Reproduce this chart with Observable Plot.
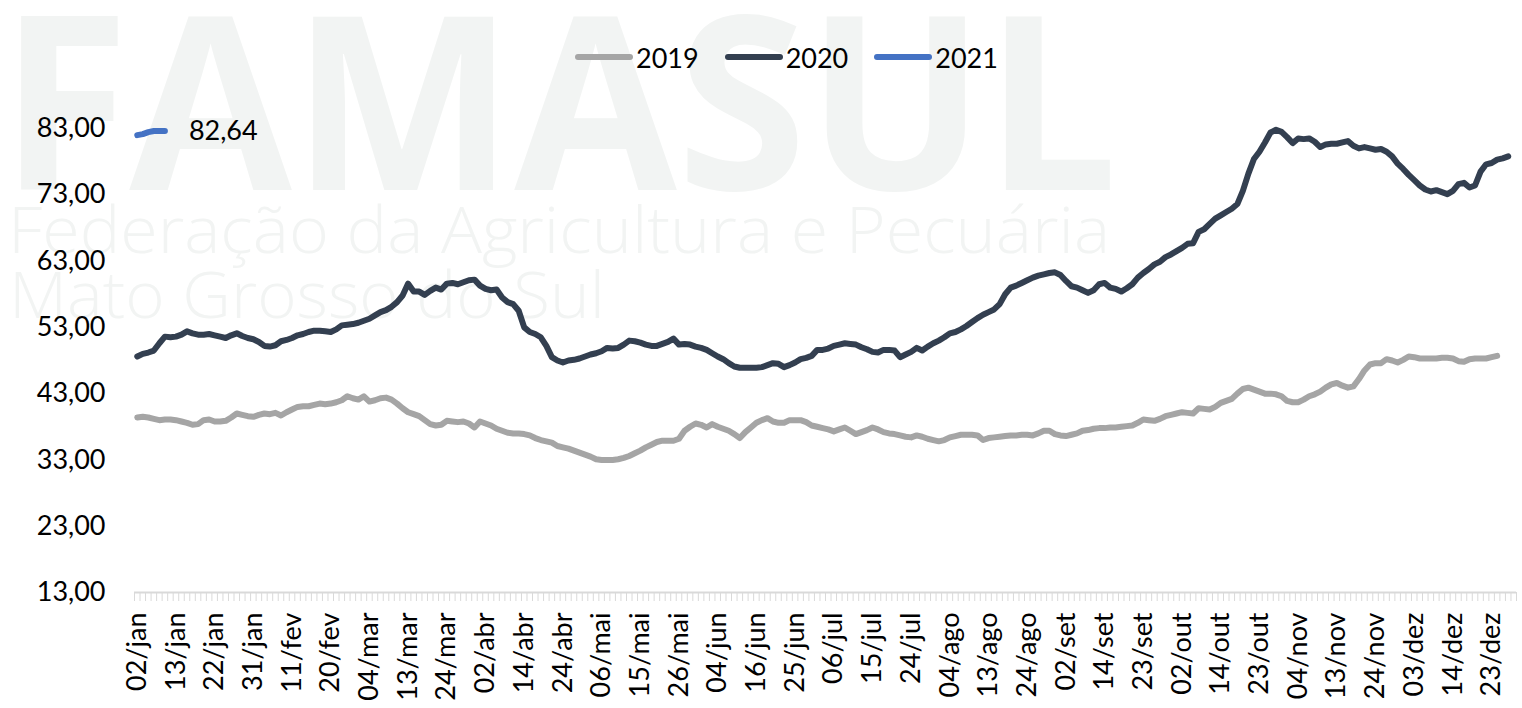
<!DOCTYPE html>
<html>
<head>
<meta charset="utf-8">
<script src="https://cdn.jsdelivr.net/npm/d3@7"></script>
<script src="https://cdn.jsdelivr.net/npm/@observablehq/plot@0.6"></script>
<style>
  html, body { margin: 0; padding: 0; background: #fff; }
  #page { position: relative; width: 1522px; height: 708px; overflow: hidden; font-family: Lato, "Open Sans", sans-serif; }
  #wm { position: absolute; left: 0; top: 0; z-index: 0; }
  #legend { position: relative; height: 90px; z-index: 1; }
  #legend .items { position: absolute; left: 575px; top: 40px; height: 34px; display: flex; align-items: center; font-size: 27px; color: #000; }
  #legend .item { display: flex; align-items: center; margin-right: 26px; }
  #legend .item span { margin-left: 3px; }
  #chart { position: relative; z-index: 1; }
</style>
</head>
<body>
<div id="page">
  <svg id="wm" width="1522" height="708">
    <text x="0" y="190" font-family="Open Sans" font-weight="700" font-size="242" textLength="1118" lengthAdjust="spacingAndGlyphs" fill="#f2f4f3">FAMASUL</text>
    <text x="8" y="253" font-family="Open Sans" font-weight="300" font-size="64" textLength="1102" lengthAdjust="spacingAndGlyphs" fill="#f2f4f3">Federação da Agricultura e Pecuária</text>
    <text x="9" y="318" font-family="Open Sans" font-weight="300" font-size="64" textLength="596" lengthAdjust="spacingAndGlyphs" fill="#f2f4f3">Mato Grosso do Sul</text>
  </svg>
  <div id="legend"><div class="items" id="legendItems"></div></div>
  <div id="chart"></div>
</div>
<script>
const seriesNames = ["2019", "2020", "2021"];
const seriesColors = ["#a5a5a5", "#333f50", "#4472c4"];

const tickLabels = ["02/jan","13/jan","22/jan","31/jan","11/fev","20/fev","04/mar","13/mar","24/mar","02/abr","14/abr","24/abr","06/mai","15/mai","26/mai","04/jun","16/jun","25/jun","06/jul","15/jul","24/jul","04/ago","13/ago","24/ago","02/set","14/set","23/set","02/out","14/out","23/out","04/nov","13/nov","24/nov","03/dez","14/dez","23/dez"];
const labelStep = 7;
const categoryCount = 250;
const yTicks = [13, 23, 33, 43, 53, 63, 73, 83];

const values2019 = [
39.4,39.5,39.4,39.2,39.0,39.1,39.1,39.0,38.8,38.6,
38.3,38.4,39.0,39.1,38.8,38.8,38.9,39.4,40.0,39.8,
39.6,39.5,39.8,40.0,39.9,40.1,39.7,40.2,40.6,41.0,
41.1,41.1,41.3,41.5,41.4,41.5,41.7,42.0,42.6,42.3,
42.1,42.6,41.8,42.0,42.3,42.4,42.1,41.5,40.8,40.2,
39.9,39.6,39.0,38.4,38.2,38.3,38.9,38.8,38.7,38.8,
38.5,37.9,38.8,38.5,38.2,37.7,37.4,37.1,37.0,37.0,
36.9,36.7,36.3,36.0,35.8,35.6,35.1,34.9,34.7,34.4,
34.1,33.8,33.5,33.1,33.0,33.0,33.0,33.1,33.3,33.6,
34.0,34.4,34.9,35.3,35.7,35.9,35.9,35.9,36.2,37.4,
38.0,38.5,38.3,37.9,38.4,38.0,37.7,37.4,36.9,36.3,
37.2,37.9,38.6,39.0,39.3,38.8,38.6,38.6,39.0,39.0,
39.0,38.7,38.2,38.0,37.8,37.6,37.3,37.6,37.9,37.4,
36.9,37.2,37.5,37.9,37.6,37.2,37.0,36.9,36.7,36.5,
36.4,36.7,36.5,36.2,36.0,35.8,36.0,36.4,36.6,36.8,
36.8,36.8,36.7,36.0,36.3,36.4,36.5,36.6,36.7,36.7,
36.8,36.8,36.7,37.0,37.4,37.4,36.9,36.7,36.6,36.8,
37.0,37.4,37.5,37.7,37.8,37.8,37.9,37.9,38.0,38.1,
38.2,38.6,39.1,39.0,38.9,39.2,39.6,39.8,40.0,40.2,
40.1,40.0,40.8,40.7,40.6,41.0,41.6,41.9,42.2,43.0,
43.7,43.9,43.6,43.3,43.0,43.0,42.9,42.6,41.9,41.7,
41.7,42.1,42.6,42.9,43.3,43.9,44.4,44.6,44.2,43.9,
44.1,45.2,46.5,47.4,47.6,47.6,48.2,48.0,47.7,48.1,
48.6,48.5,48.3,48.3,48.3,48.3,48.4,48.4,48.3,47.9,
47.8,48.2,48.3,48.3,48.3,48.5,48.7
];

const values2020 = [
48.6,49.0,49.2,49.5,50.6,51.6,51.5,51.6,51.9,52.4,
52.1,51.9,51.9,52.0,51.8,51.6,51.4,51.8,52.1,51.7,
51.4,51.2,50.8,50.2,50.1,50.3,50.9,51.1,51.4,51.8,
52.0,52.3,52.5,52.5,52.4,52.3,52.7,53.3,53.4,53.5,
53.7,54.0,54.3,54.8,55.3,55.6,56.1,56.8,57.8,59.6,
58.4,58.4,57.9,58.5,59.0,58.7,59.6,59.7,59.5,59.8,
60.1,60.2,59.3,58.8,58.6,58.7,57.5,56.8,56.5,55.5,
53.0,52.3,52.0,51.5,50.2,48.5,48.0,47.7,48.0,48.1,
48.3,48.6,48.9,49.1,49.4,49.9,49.8,49.9,50.4,51.0,
50.9,50.7,50.4,50.2,50.2,50.5,50.8,51.3,50.4,50.5,
50.4,50.1,49.9,49.6,49.1,48.6,48.2,47.6,47.1,46.9,
46.9,46.9,46.9,47.0,47.3,47.6,47.5,47.0,47.3,47.7,
48.2,48.4,48.7,49.6,49.6,49.8,50.2,50.4,50.6,50.5,
50.4,50.0,49.7,49.3,49.2,49.6,49.6,49.5,48.5,48.9,
49.3,49.9,49.5,50.1,50.6,51.0,51.5,52.1,52.3,52.7,
53.2,53.8,54.4,54.9,55.3,55.7,56.5,58.0,59.0,59.3,
59.7,60.1,60.5,60.8,61.0,61.2,61.3,60.9,60.0,59.2,
59.0,58.6,58.2,58.6,59.5,59.7,59.0,58.8,58.4,58.9,
59.5,60.5,61.2,61.8,62.5,62.9,63.6,64.0,64.5,65.0,
65.6,65.7,67.4,67.8,68.6,69.4,69.9,70.4,70.9,71.6,
73.6,76.2,78.4,79.5,80.9,82.4,82.8,82.5,81.7,80.8,
81.5,81.4,81.5,81.0,80.2,80.6,80.7,80.7,80.9,81.1,
80.4,80.0,80.2,80.0,79.8,79.9,79.5,78.8,77.7,76.9,
76.0,75.2,74.4,73.8,73.5,73.7,73.4,73.1,73.6,74.6,
74.8,74.1,74.4,76.5,77.6,77.8,78.3,78.5,78.8
];

const values2021 = [82.0, 82.15, 82.45, 82.62, 82.64, 82.64];

const allSeries = [values2019, values2020, values2021];
const data = allSeries.flatMap((vals, s) => vals.map((v, i) => ({series: seriesNames[s], i, v})));
const last2021 = [{i: values2021.length - 1, v: values2021[values2021.length - 1]}];

const fmt = v => v.toFixed(2).replace(".", ",");
const boundaries = d3.range(categoryCount + 1).map(k => k - 0.5);
const labelIdx = tickLabels.map((_, k) => k * labelStep);

const chart = Plot.plot({
  width: 1522,
  height: 618,
  marginLeft: 134,
  marginRight: 6,
  marginTop: 38,
  marginBottom: 116,
  style: {fontFamily: "Lato, 'Open Sans', sans-serif", fontSize: "27px", color: "#000", background: "transparent", overflow: "visible"},
  x: {type: "linear", domain: [-0.5, categoryCount - 0.5], label: null},
  y: {domain: [13, 83], label: null},
  color: {domain: seriesNames, range: seriesColors},
  marks: [
    Plot.axisX({ticks: boundaries, tickSize: 9, tickFormat: () => "", stroke: "#d9d9d9", strokeWidth: 1, label: null}),
    Plot.axisX({ticks: labelIdx, tickSize: 0, tickPadding: 20, tickRotate: -90, fontSize: 27, tickFormat: i => tickLabels[Math.round(i / labelStep)], fill: "#000", label: null}),
    Plot.axisY({ticks: yTicks, tickSize: 0, tickPadding: 29, fontSize: 27, tickFormat: fmt, fill: "#000", label: null}),
    Plot.ruleY([13], {stroke: "#d9d9d9", strokeWidth: 2}),
    Plot.line(data, {x: "i", y: "v", z: "series", stroke: "series", strokeWidth: 6, strokeLinecap: "round", strokeLinejoin: "round"}),
    Plot.text(last2021, {x: "i", y: "v", text: d => fmt(d.v), dx: 24, textAnchor: "start", fontSize: 27, fill: "#000"})
  ]
});
document.getElementById("chart").appendChild(chart);

const items = document.getElementById("legendItems");
seriesNames.forEach((name, k) => {
  const it = document.createElement("div");
  it.className = "item";
  it.innerHTML = `<svg width="58" height="10"><line x1="3" y1="5" x2="55" y2="5" stroke="${seriesColors[k]}" stroke-width="6" stroke-linecap="round"/></svg><span>${name}</span>`;
  items.appendChild(it);
});
</script>
</body>
</html>
